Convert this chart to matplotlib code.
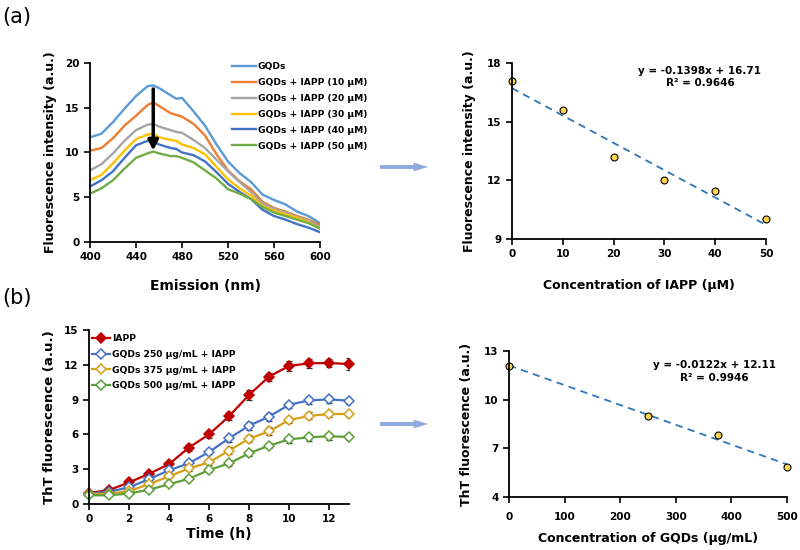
import numpy as np
import matplotlib.pyplot as plt
from matplotlib.patches import FancyArrow

plt.rcParams['font.family'] = ['DejaVu Sans']

# panel (a) spectra
wl = [400, 410, 420, 430, 440, 450, 455, 460, 470, 475, 480, 490, 500, 510, 520, 530, 540, 550, 560, 570, 580, 590, 600]
gqds = [11.7, 12.1, 13.4, 14.9, 16.3, 17.4, 17.5, 17.2, 16.4, 16.0, 16.1, 14.6, 13.0, 10.9, 9.0, 7.7, 6.7, 5.3, 4.7, 4.2, 3.4, 2.9, 2.1]
iapp10 = [10.2, 10.5, 11.6, 13.0, 14.1, 15.3, 15.6, 15.2, 14.4, 14.2, 14.0, 13.2, 11.9, 9.8, 8.0, 6.8, 5.9, 4.5, 3.8, 3.4, 2.9, 2.5, 1.9]
iapp20 = [8.0, 8.7, 9.9, 11.3, 12.5, 13.1, 13.2, 12.9, 12.5, 12.3, 12.2, 11.4, 10.5, 9.2, 7.9, 6.7, 5.6, 4.3, 3.7, 3.3, 2.8, 2.4, 1.7]
iapp30 = [6.9, 7.5, 8.8, 10.2, 11.5, 12.0, 12.1, 11.7, 11.4, 11.3, 10.9, 10.5, 9.8, 8.4, 7.0, 6.0, 5.2, 4.0, 3.5, 3.1, 2.7, 2.2, 1.5]
iapp40 = [6.2, 6.9, 7.9, 9.4, 10.8, 11.3, 11.2, 10.9, 10.5, 10.4, 10.0, 9.7, 9.0, 7.8, 6.5, 5.6, 4.8, 3.6, 2.9, 2.5, 2.0, 1.6, 1.1]
iapp50 = [5.4, 6.0, 6.9, 8.2, 9.4, 9.9, 10.1, 9.9, 9.6, 9.6, 9.4, 8.9, 8.0, 7.1, 5.9, 5.4, 4.8, 3.9, 3.3, 2.9, 2.5, 2.1, 1.5]
spec_labels = ["GQDs", "GQDs + IAPP (10 µM)", "GQDs + IAPP (20 µM)", "GQDs + IAPP (30 µM)",
               "GQDs + IAPP (40 µM)", "GQDs + IAPP (50 µM)"]
spec_colors = ["#5B9BD5", "#ED7D31", "#A5A5A5", "#FFC000", "#4472C4", "#70AD47"]

# peak intensity vs IAPP
iapp_conc = [0, 10, 20, 30, 40, 50]
peak_int = [17.1, 15.6, 13.2, 12.0, 11.45, 10.0]
fit_a = (-0.1398, 16.71)

# panel (b) ThT kinetics
time_h = [0, 1, 2, 3, 4, 5, 6, 7, 8, 9, 10, 11, 12, 13]
tht_iapp = [0.95, 1.2, 1.86, 2.6, 3.44, 4.87, 6.0, 7.56, 9.4, 10.98, 11.9, 12.13, 12.15, 12.07]
tht_250 = [0.9, 1.06, 1.43, 2.15, 2.9, 3.52, 4.48, 5.66, 6.75, 7.53, 8.56, 8.93, 9.02, 8.91]
tht_375 = [0.85, 0.9, 1.1, 1.72, 2.38, 3.07, 3.59, 4.6, 5.63, 6.26, 7.24, 7.59, 7.76, 7.76]
tht_500 = [0.75, 0.75, 0.9, 1.23, 1.7, 2.18, 2.93, 3.5, 4.37, 5.03, 5.57, 5.75, 5.84, 5.78]
err_iapp = [0.05, 0.1, 0.15, 0.2, 0.25, 0.3, 0.3, 0.35, 0.4, 0.35, 0.4, 0.4, 0.35, 0.5]
err_250 = [0.05, 0.1, 0.1, 0.15, 0.2, 0.2, 0.2, 0.3, 0.35, 0.35, 0.25, 0.3, 0.3, 0.25]
err_375 = [0.05, 0.1, 0.1, 0.15, 0.15, 0.2, 0.2, 0.3, 0.3, 0.35, 0.25, 0.3, 0.3, 0.3]
err_500 = [0.05, 0.05, 0.1, 0.1, 0.15, 0.15, 0.2, 0.2, 0.25, 0.2, 0.3, 0.3, 0.3, 0.25]
tht_labels = ["IAPP", "GQDs 250 µg/mL + IAPP", "GQDs 375 µg/mL + IAPP", "GQDs 500 µg/mL + IAPP"]
tht_colors = ["#C00000", "#4472C4", "#D4A017", "#5E9E3A"]

# final ThT vs GQDs
gqd_conc = [0, 250, 375, 500]
tht_final = [12.1, 9.0, 7.85, 5.85]
fit_b = (-0.0122, 12.11)

fig = plt.figure(figsize=(8, 5.5), dpi=100)
ax1 = fig.add_axes([0.1125, 0.56, 0.2875, 0.3255])
ax2 = fig.add_axes([0.64, 0.5655, 0.3175, 0.32])
ax3 = fig.add_axes([0.11125, 0.0836, 0.325, 0.3164])
ax4 = fig.add_axes([0.63625, 0.0964, 0.3475, 0.2655])

def style(ax):
    for s in ["top", "right"]:
        ax.spines[s].set_visible(False)
    for s in ["left", "bottom"]:
        ax.spines[s].set_linewidth(1.3)
    ax.tick_params(direction="out", length=4, width=1.2, labelsize=7.5)
    for t in ax.get_xticklabels() + ax.get_yticklabels():
        t.set_fontweight("bold")

# (a) spectra
for y, lab, c in zip([gqds, iapp10, iapp20, iapp30, iapp40, iapp50], spec_labels, spec_colors):
    ax1.plot(wl, y, color=c, lw=1.7, label=lab)
ax1.annotate("", xy=(455, 9.9), xytext=(455, 17.4),
             arrowprops=dict(arrowstyle="-|>,head_width=0.3,head_length=0.6", color="black", lw=2.5))
ax1.set_xlim(400, 600)
ax1.set_ylim(0, 20)
ax1.set_xticks(range(400, 601, 40))
ax1.set_yticks(range(0, 21, 5))
style(ax1)
ax1.set_xlabel("Emission (nm)", fontsize=10, fontweight="bold", labelpad=12)
ax1.set_ylabel("Fluorescence intensity (a.u.)", fontsize=9, fontweight="bold", labelpad=6)
leg = ax1.legend(loc="upper left", bbox_to_anchor=(0.29, 0.887), bbox_transform=fig.transFigure,
                 frameon=False, fontsize=6.6, handlelength=2.6, handletextpad=0.2,
                 labelspacing=0.75, borderpad=0, borderaxespad=0)
for t in leg.get_texts():
    t.set_fontweight("semibold")

# (a) linear fit
xs = np.array([0, 50])
ax2.plot(xs, fit_a[0] * xs + fit_a[1], ls=(0, (4, 3)), color="#2E75B6", lw=1.3)
ax2.plot(iapp_conc, peak_int, "o", ms=5, mfc="#FFD54F", mec="black", mew=0.8, clip_on=False)
ax2.set_xlim(0, 50)
ax2.set_ylim(9, 18)
ax2.set_xticks(range(0, 51, 10))
ax2.set_yticks([9, 12, 15, 18])
style(ax2)
ax2.set_xlabel("Concentration of IAPP (µM)", fontsize=9, fontweight="bold", labelpad=14)
ax2.set_ylabel("Fluorescence intensity (a.u.)", fontsize=9, fontweight="bold", labelpad=8)
ax2.text(0.74, 0.92, "y = -0.1398x + 16.71\nR² = 0.9646", transform=ax2.transAxes, ha="center",
         va="center", fontsize=7.5, fontweight="bold", linespacing=1.3)

# (b) ThT kinetics
for i, (y, e, lab, c) in enumerate(zip([tht_iapp, tht_250, tht_375, tht_500],
                                       [err_iapp, err_250, err_375, err_500], tht_labels, tht_colors)):
    ax3.errorbar(time_h, y, yerr=e, fmt="none", ecolor="#303030", elinewidth=0.9, capsize=2, capthick=0.9)
    ax3.plot(time_h, y, color=c, lw=1.6, marker="D", ms=5, mec=c, mew=1.1,
             mfc=c if i == 0 else "white", label=lab, clip_on=False)
ax3.set_xlim(0, 13)
ax3.set_ylim(0, 15)
ax3.set_xticks(range(0, 13, 2))
ax3.set_yticks(range(0, 16, 3))
style(ax3)
ax3.set_xlabel("Time (h)", fontsize=10, fontweight="bold", labelpad=2)
ax3.set_ylabel("ThT fluorescence (a.u.)", fontsize=9.5, fontweight="bold", labelpad=6)
leg3 = ax3.legend(loc="upper left", bbox_to_anchor=(0.115, 0.393), bbox_transform=fig.transFigure,
                  frameon=False, fontsize=6.6, handlelength=2.0, handletextpad=0.2,
                  labelspacing=0.75, borderpad=0, borderaxespad=0)
for t in leg3.get_texts():
    t.set_fontweight("semibold")

# (b) linear fit
xs = np.array([0, 500])
ax4.plot(xs, fit_b[0] * xs + fit_b[1], ls=(0, (4, 3)), color="#2E75B6", lw=1.3)
ax4.plot(gqd_conc, tht_final, "o", ms=5, mfc="#FFD54F", mec="black", mew=0.8, clip_on=False)
ax4.set_xlim(0, 500)
ax4.set_ylim(4, 13)
ax4.set_xticks(range(0, 501, 100))
ax4.set_yticks([4, 7, 10, 13])
style(ax4)
ax4.tick_params(axis="x", pad=7)
ax4.set_xlabel("Concentration of GQDs (µg/mL)", fontsize=9, fontweight="bold", labelpad=7)
ax4.set_ylabel("ThT fluorescence (a.u.)", fontsize=9, fontweight="bold", labelpad=8)
ax4.text(0.74, 0.86, "y = -0.0122x + 12.11\nR² = 0.9946", transform=ax4.transAxes, ha="center",
         va="center", fontsize=7.5, fontweight="bold", linespacing=1.3)

# panel letters and arrows between panels
fig.text(0.003, 0.97, "(a)", fontsize=15, va="center")
fig.text(0.003, 0.458, "(b)", fontsize=15, va="center")
for yf in [1 - 167 / 550, 1 - 424 / 550]:
    fig.patches.append(FancyArrow(380 / 800, yf, 48 / 800, 0, width=0.007, head_width=0.016,
                                  head_length=0.018, length_includes_head=True,
                                  color="#8EA9DB", lw=0, transform=fig.transFigure))

fig.savefig("out.png", dpi=100)
